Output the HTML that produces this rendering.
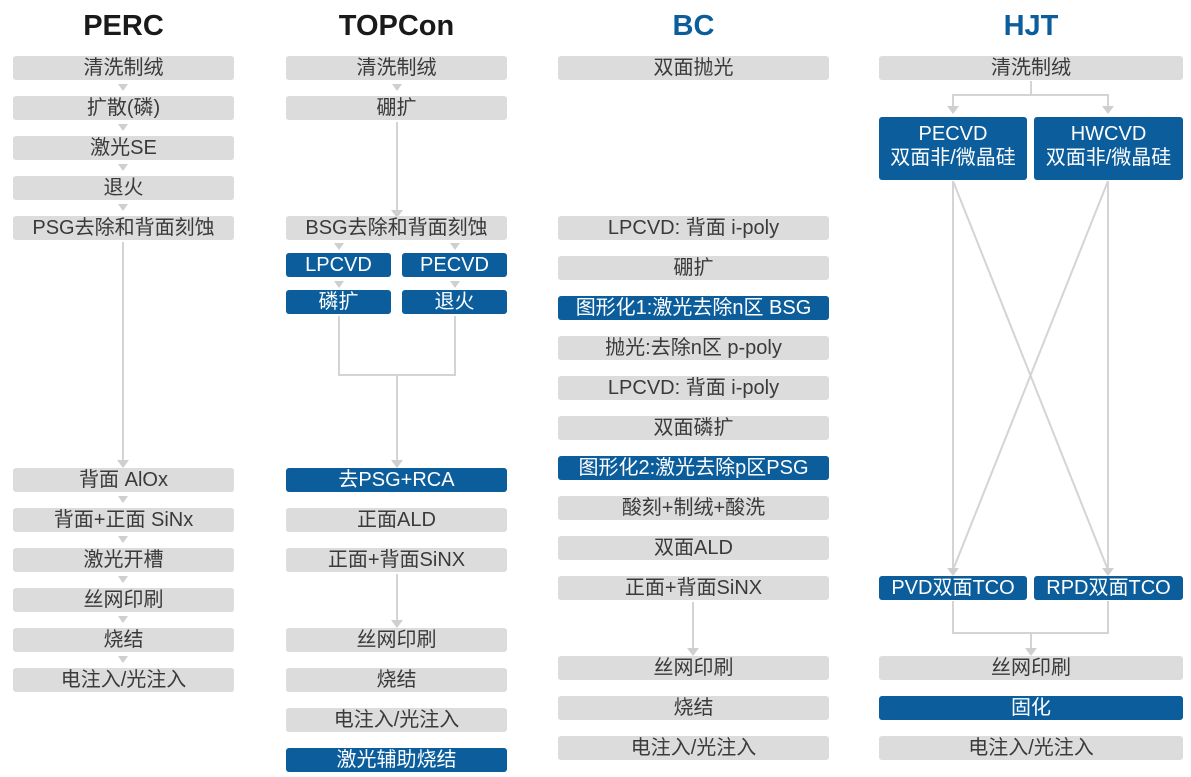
<!DOCTYPE html>
<html><head><meta charset="utf-8"><style>
body{margin:0;width:1191px;height:777px;background:#fff;position:relative;overflow:hidden;font-family:"Liberation Sans","Noto Sans CJK SC",sans-serif}
.b{position:absolute;height:24px;line-height:24px;background:#dcdcdc;color:#3a3a3a;font-size:20px;text-align:center;border-radius:3px;white-space:nowrap}
.u{background:#0b5d9c;color:#fff}
.t{position:absolute;top:10px;font-size:29px;font-weight:bold;text-align:center;color:#1a1a1a}
svg{position:absolute;left:0;top:0}
</style></head><body>
<svg width="1191" height="777">
<g stroke="#d4d4d4" stroke-width="2" fill="none">
<line x1="123" y1="242" x2="123" y2="462"/>
<line x1="397" y1="122" x2="397" y2="212"/>
<polyline points="339,316 339,375 455,375 455,316"/>
<line x1="397" y1="375" x2="397" y2="462"/>
<line x1="397" y1="574" x2="397" y2="622"/>
<line x1="693" y1="602" x2="693" y2="650"/>
<line x1="1031" y1="81" x2="1031" y2="95"/>
<polyline points="953,108 953,95 1108,95 1108,108"/>
<line x1="953" y1="181" x2="953" y2="570"/>
<line x1="1108" y1="181" x2="1108" y2="570"/>
<line x1="953" y1="181" x2="1108" y2="570"/>
<line x1="1108" y1="181" x2="953" y2="570"/>
<polyline points="953,601 953,633 1108,633 1108,601"/>
<line x1="1031" y1="633" x2="1031" y2="650"/>
</g>
<g fill="#cfcfcf">
<polygon points="118,84 128,84 123,91"/><polygon points="118,124 128,124 123,131"/><polygon points="118,164 128,164 123,171"/><polygon points="118,204 128,204 123,211"/>
<polygon points="117,460 129,460 123,468"/>
<polygon points="118,496 128,496 123,503"/><polygon points="118,536 128,536 123,543"/><polygon points="118,576 128,576 123,583"/><polygon points="118,616 128,616 123,623"/><polygon points="118,656 128,656 123,663"/>
<polygon points="392,84 402,84 397,91"/>
<polygon points="391,210 403,210 397,218"/>
<polygon points="334,243 344,243 339,250"/><polygon points="450,243 460,243 455,250"/>
<polygon points="334,281 344,281 339,288"/><polygon points="450,281 460,281 455,288"/>
<polygon points="391,460 403,460 397,468"/>
<polygon points="391,620 403,620 397,628"/>
<polygon points="687,648 699,648 693,656"/>
<polygon points="947,106 959,106 953,114"/><polygon points="1102,106 1114,106 1108,114"/>
<polygon points="947,568 959,568 953,576"/><polygon points="1102,568 1114,568 1108,576"/>
<polygon points="1025,648 1037,648 1031,656"/>
</g>
</svg>
<div class="t" style="left:13px;width:221px">PERC</div>
<div class="t" style="left:286px;width:221px">TOPCon</div>
<div class="t" style="left:558px;width:271px;color:#0b5d9c">BC</div>
<div class="t" style="left:879px;width:304px;color:#0b5d9c">HJT</div>

<div class="b" style="left:13px;width:221px;top:56px">清洗制绒</div>
<div class="b" style="left:13px;width:221px;top:96px">扩散(磷)</div>
<div class="b" style="left:13px;width:221px;top:136px">激光SE</div>
<div class="b" style="left:13px;width:221px;top:176px">退火</div>
<div class="b" style="left:13px;width:221px;top:216px">PSG去除和背面刻蚀</div>
<div class="b" style="left:13px;width:221px;top:468px">背面 AlOx</div>
<div class="b" style="left:13px;width:221px;top:508px">背面+正面 SiNx</div>
<div class="b" style="left:13px;width:221px;top:548px">激光开槽</div>
<div class="b" style="left:13px;width:221px;top:588px">丝网印刷</div>
<div class="b" style="left:13px;width:221px;top:628px">烧结</div>
<div class="b" style="left:13px;width:221px;top:668px">电注入/光注入</div>

<div class="b" style="left:286px;width:221px;top:56px">清洗制绒</div>
<div class="b" style="left:286px;width:221px;top:96px">硼扩</div>
<div class="b" style="left:286px;width:221px;top:216px">BSG去除和背面刻蚀</div>
<div class="b u" style="left:286px;width:105px;top:253px">LPCVD</div>
<div class="b u" style="left:402px;width:105px;top:253px">PECVD</div>
<div class="b u" style="left:286px;width:105px;top:290px">磷扩</div>
<div class="b u" style="left:402px;width:105px;top:290px">退火</div>
<div class="b u" style="left:286px;width:221px;top:468px">去PSG+RCA</div>
<div class="b" style="left:286px;width:221px;top:508px">正面ALD</div>
<div class="b" style="left:286px;width:221px;top:548px">正面+背面SiNX</div>
<div class="b" style="left:286px;width:221px;top:628px">丝网印刷</div>
<div class="b" style="left:286px;width:221px;top:668px">烧结</div>
<div class="b" style="left:286px;width:221px;top:708px">电注入/光注入</div>
<div class="b u" style="left:286px;width:221px;top:748px">激光辅助烧结</div>

<div class="b" style="left:558px;width:271px;top:56px">双面抛光</div>
<div class="b" style="left:558px;width:271px;top:216px">LPCVD: 背面 i-poly</div>
<div class="b" style="left:558px;width:271px;top:256px">硼扩</div>
<div class="b u" style="left:558px;width:271px;top:296px">图形化1:激光去除n区 BSG</div>
<div class="b" style="left:558px;width:271px;top:336px">抛光:去除n区 p-poly</div>
<div class="b" style="left:558px;width:271px;top:376px">LPCVD: 背面 i-poly</div>
<div class="b" style="left:558px;width:271px;top:416px">双面磷扩</div>
<div class="b u" style="left:558px;width:271px;top:456px">图形化2:激光去除p区PSG</div>
<div class="b" style="left:558px;width:271px;top:496px">酸刻+制绒+酸洗</div>
<div class="b" style="left:558px;width:271px;top:536px">双面ALD</div>
<div class="b" style="left:558px;width:271px;top:576px">正面+背面SiNX</div>
<div class="b" style="left:558px;width:271px;top:656px">丝网印刷</div>
<div class="b" style="left:558px;width:271px;top:696px">烧结</div>
<div class="b" style="left:558px;width:271px;top:736px">电注入/光注入</div>

<div class="b" style="left:879px;width:304px;top:56px">清洗制绒</div>
<div class="b u" style="left:879px;width:148px;top:117px;height:63px;line-height:24px;padding-top:5px;box-sizing:border-box">PECVD<br>双面非/微晶硅</div>
<div class="b u" style="left:1034px;width:149px;top:117px;height:63px;line-height:24px;padding-top:5px;box-sizing:border-box">HWCVD<br>双面非/微晶硅</div>
<div class="b u" style="left:879px;width:148px;top:576px">PVD双面TCO</div>
<div class="b u" style="left:1034px;width:149px;top:576px">RPD双面TCO</div>
<div class="b" style="left:879px;width:304px;top:656px">丝网印刷</div>
<div class="b u" style="left:879px;width:304px;top:696px">固化</div>
<div class="b" style="left:879px;width:304px;top:736px">电注入/光注入</div>
</body></html>
